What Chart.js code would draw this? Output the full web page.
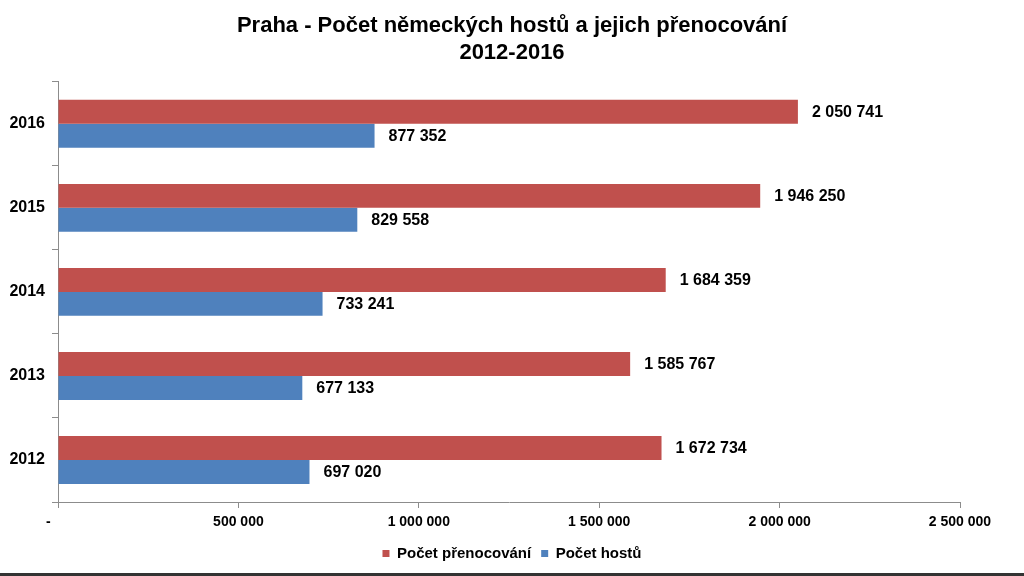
<!DOCTYPE html>
<html lang="cs">
<head>
    <meta charset="UTF-8">
    <title>Praha - Počet německých hostů a jejich přenocování</title>
    <script src="https://cdn.jsdelivr.net/npm/chart.js@4.4.1/dist/chart.umd.min.js"></script>
    <style>
        body {
            margin: 0;
            background-color: #fff;
        }
        #wrap {
            position: relative;
            width: 1024px;
            height: 576px;
        }
        #bottomLine {
            position: absolute;
            left: 0;
            top: 573px;
            width: 1024px;
            height: 3px;
            background-color: #333;
        }
    </style>
</head>
<body>
    <div id="wrap">
        <canvas id="chart" width="1024" height="576"></canvas>
        <div id="bottomLine"></div>
    </div>

    <script>
        const years = ['2012', '2013', '2014', '2015', '2016'];
        const prenocovani = [1672734, 1585767, 1684359, 1946250, 2050741];
        const hoste = [697020, 677133, 733241, 829558, 877352];
        const xTicks = [0, 500000, 1000000, 1500000, 2000000, 2500000];

        const fontFamily = "'Liberation Sans', Arial, sans-serif";
        const axisGrey = '#8c8c8c';

        function formatNumber(v) {
            if (v === 0) return '-';
            return String(v).replace(/\B(?=(\d{3})+(?!\d))/g, ' ');
        }

        // popisky hodnot za koncem sloupců
        const valueLabels = {
            id: 'valueLabels',
            afterDatasetsDraw(chart) {
                const ctx = chart.ctx;
                ctx.save();
                ctx.font = 'bold 16px ' + fontFamily;
                ctx.fillStyle = '#000';
                ctx.textAlign = 'left';
                ctx.textBaseline = 'middle';
                chart.data.datasets.forEach((ds, i) => {
                    chart.getDatasetMeta(i).data.forEach((bar, j) => {
                        ctx.fillText(formatNumber(ds.data[j]), bar.x + 14, bar.y + 1);
                    });
                });
                ctx.restore();
            }
        };

        new Chart(document.getElementById('chart'), {
            type: 'bar',
            data: {
                labels: years,
                datasets: [
                    {
                        label: 'Počet přenocování',
                        data: prenocovani,
                        backgroundColor: '#C0504D'
                    },
                    {
                        label: 'Počet hostů',
                        data: hoste,
                        backgroundColor: '#4F81BD'
                    }
                ]
            },
            options: {
                indexAxis: 'y',
                responsive: false,
                animation: false,
                layout: {
                    padding: { left: 0, right: 0, top: 0, bottom: 5 }
                },
                datasets: {
                    bar: {
                        categoryPercentage: 0.57,
                        barPercentage: 1
                    }
                },
                scales: {
                    x: {
                        min: 0,
                        max: 2500000,
                        afterFit(scale) { scale.height = 34; },
                        afterBuildTicks(scale) {
                            scale.ticks = xTicks.map(v => ({ value: v }));
                        },
                        grid: {
                            drawOnChartArea: false,
                            tickLength: 6,
                            color: axisGrey
                        },
                        border: { color: axisGrey },
                        ticks: {
                            padding: 6,
                            color: '#000',
                            font: { family: fontFamily, size: 14, weight: 'bold' },
                            // nula jako pomlčka, mírně vlevo od osy
                            callback: v => v === 0 ? '-     ' : formatNumber(v)
                        }
                    },
                    y: {
                        reverse: true,
                        afterFit(scale) { scale.width = 58; },
                        grid: {
                            offset: true,
                            drawOnChartArea: false,
                            tickLength: 6,
                            color: axisGrey
                        },
                        border: { color: axisGrey },
                        ticks: {
                            padding: 7,
                            color: '#000',
                            font: { family: fontFamily, size: 16, weight: 'bold' }
                        }
                    },
                    // prázdné místo vpravo, aby titulek a legenda zůstaly uprostřed
                    yRight: {
                        type: 'category',
                        position: 'right',
                        afterFit(scale) { scale.width = 64; },
                        grid: { display: false },
                        border: { display: false },
                        ticks: { display: false }
                    }
                },
                plugins: {
                    title: {
                        display: true,
                        text: ['Praha - Počet německých hostů a jejich přenocování', '2012-2016'],
                        color: '#000',
                        font: { family: fontFamily, size: 22, weight: 'bold', lineHeight: 1.2 },
                        padding: { top: 13, bottom: 16 }
                    },
                    legend: {
                        position: 'bottom',
                        labels: {
                            color: '#000',
                            boxWidth: 7,
                            boxHeight: 7,
                            padding: 10,
                            font: { family: fontFamily, size: 15, weight: 'bold' }
                        }
                    },
                    tooltip: { enabled: false }
                }
            },
            plugins: [valueLabels]
        });
    </script>
</body>
</html>
